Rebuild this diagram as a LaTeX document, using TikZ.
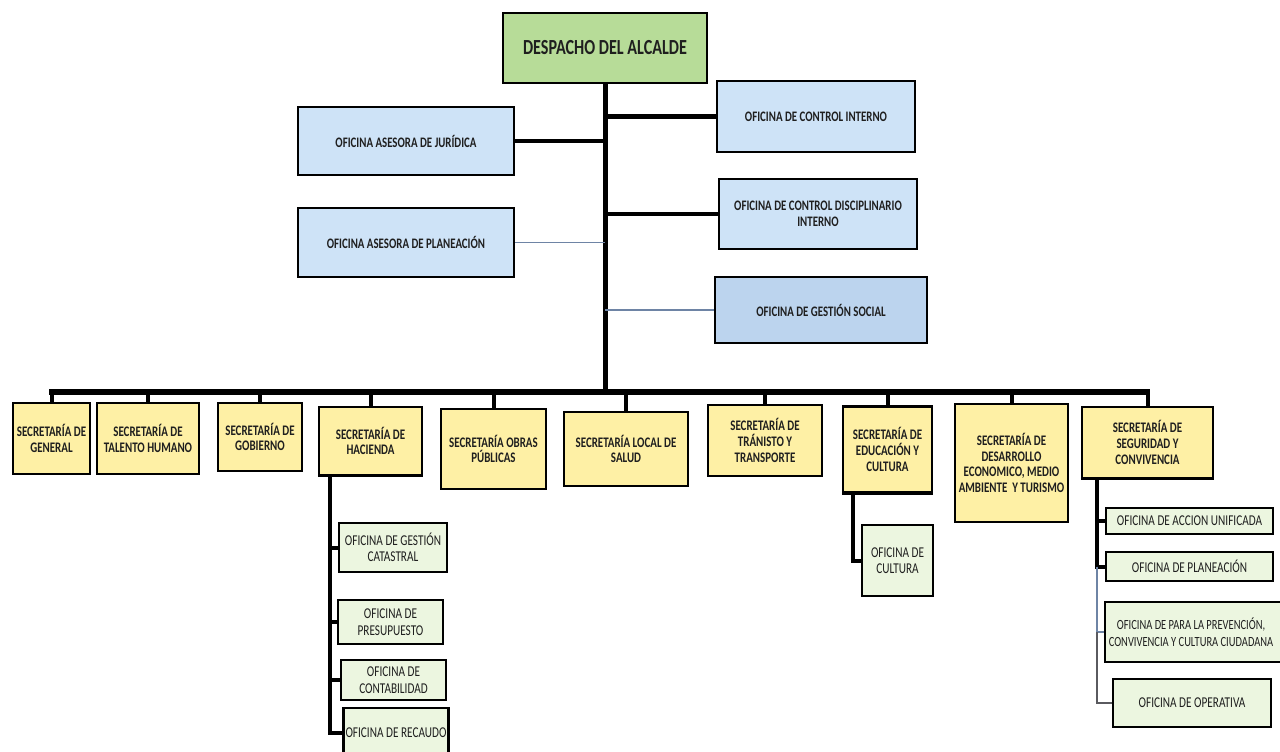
\documentclass[tikz,border=0pt]{standalone}
\usepackage{fontspec}
\setmainfont{Carlito}[FakeStretch=0.75]
\definecolor{cgreen}{RGB}{183,220,152}
\definecolor{cblue}{RGB}{206,227,247}
\definecolor{cbluedark}{RGB}{188,212,238}
\definecolor{cyellow}{RGB}{254,240,165}
\definecolor{clgreen}{RGB}{236,246,224}
\definecolor{cthin}{RGB}{110,132,165}
\definecolor{cgrayline}{RGB}{90,90,95}
\tikzset{
  box/.style={draw=black, line width=2.4pt, align=center, inner sep=2pt, text=black!88},
  despbox/.style={box, fill=cgreen, font=\fontsize{21.5}{25}\selectfont\bfseries},
  bluebox/.style={box, fill=cblue, font=\fontsize{14.5}{15.5}\selectfont\bfseries},
  secbox/.style={box, fill=cyellow, font=\fontsize{14.6}{15.8}\selectfont\bfseries},
  ofibox/.style={box, fill=clgreen, font=\fontsize{15}{16.5}\selectfont},
  sz/.style args={#1x#2}{minimum width=#1pt, minimum height=#2pt},
  trunkline/.style={line width=5pt, black},
  thickline/.style={line width=4.5pt, black},
  busline/.style={line width=5.5pt, black},
  dropline/.style={line width=4pt, black},
  thinline/.style={line width=1.5pt, cthin},
  grayline/.style={line width=2pt, cgrayline},
}
\begin{document}
\begin{tikzpicture}[x=1pt,y=-1pt]
\useasboundingbox (0,0) rectangle (1280,752);
\begin{scope}
\clip (0,0) rectangle (1280,752);
\fill[white] (0,0) rectangle (1280,752);

% top level
\node[despbox, sz=204x70] (desp) at (605,48) {DESPACHO DEL ALCALDE};
\node[bluebox, sz=216x68] (jur) at (406,141) {OFICINA ASESORA DE JURÍDICA};
\node[bluebox, sz=216x69] (pla) at (406,242.5) {OFICINA ASESORA DE PLANEACIÓN};
\node[bluebox, sz=198x71] (ci) at (816,116.5) {OFICINA DE CONTROL INTERNO};
\node[bluebox, sz=198x70] (cdi) at (818,214) {OFICINA DE CONTROL DISCIPLINARIO\\INTERNO};
\node[bluebox, fill=cbluedark, sz=212x66] (gs) at (821,310) {OFICINA DE GESTIÓN SOCIAL};

% secretarias
\node[secbox, sz=77x71] (s1) at (51.5,438.5) {SECRETARÍA DE\\GENERAL};
\node[secbox, sz=102x71] (s2) at (148,438.5) {SECRETARÍA DE\\TALENTO HUMANO};
\node[secbox, sz=84x68] (s3) at (260,437) {SECRETARÍA DE\\GOBIERNO};
\node[secbox, sz=103x68] (s4) at (370.5,441) {SECRETARÍA DE\\HACIENDA};
\node[secbox, sz=105x80] (s5) at (493.5,449) {SECRETARÍA OBRAS\\PÚBLICAS};
\node[secbox, sz=124x74] (s6) at (626,449) {SECRETARÍA LOCAL DE\\SALUD};
\node[secbox, sz=114x71] (s7) at (765,440.5) {SECRETARÍA DE\\TRÁNISTO Y\\TRANSPORTE};
\node[secbox, sz=89x86] (s8) at (887.5,449.5) {SECRETARÍA DE\\EDUCACIÓN Y\\CULTURA};
\node[secbox, sz=113x118, inner sep=1pt] (s9) at (1011.5,463) {SECRETARÍA DE\\DESARROLLO\\ECONOMICO, MEDIO\\AMBIENTE \ Y TURISMO};
\node[secbox, sz=131x71] (s10) at (1147.5,442.5) {SECRETARÍA DE\\SEGURIDAD Y\\CONVIVENCIA};

% oficinas de hacienda
\node[ofibox, sz=108x49] (cat) at (393,547.5) {OFICINA DE GESTIÓN\\CATASTRAL};
\node[ofibox, sz=105x44] (pre) at (390.5,622) {OFICINA DE\\PRESUPUESTO};
\node[ofibox, sz=105x40] (con) at (393.5,680) {OFICINA DE\\CONTABILIDAD};
\node[ofibox, sz=104x50] (rec) at (396,733) {OFICINA DE RECAUDO};

% educacion
\node[ofibox, sz=71x71] (cul) at (897.5,560.5) {OFICINA DE\\CULTURA};

% seguridad
\node[ofibox, sz=167x26] (acc) at (1189.5,521) {OFICINA DE ACCION UNIFICADA};
\node[ofibox, sz=167x29] (plan2) at (1189.5,566.5) {OFICINA DE PLANEACIÓN};
\node[ofibox, sz=180x60] (prev) at (1195,632) {};
\node[font=\fontsize{14}{16.5}\selectfont, align=center, text=black!88] (prevtxt) at (1191,632) {OFICINA DE PARA LA PREVENCIÓN,\\CONVIVENCIA Y CULTURA CIUDADANA};
\node[ofibox, sz=158x48] (ope) at (1192,703) {OFICINA DE OPERATIVA};

% junction coordinates
\coordinate (bus) at (605,392);
\coordinate (hx) at (330,475);
\coordinate (ex) at (853,492);
\coordinate (sx) at (1097,478);

% trunk and staff connectors
\draw[trunkline] (desp.south) -- (bus);
\draw[thickline] (jur.east) -- (jur.east -| bus);
\draw[thickline] (ci.west) -- (ci.west -| bus);
\draw[thickline] (cdi.west) -- (cdi.west -| bus);
\draw[thinline] (pla.east) -- (pla.east -| bus);
\draw[thinline] (gs.west) -- (gs.west -| bus);

% bus and drops
\draw[busline, line cap=rect] (s1.north |- bus) -- (s10.north |- bus);
\foreach \s in {s1,s2,s3,s4,s5,s6,s7,s8,s9,s10}{
  \draw[dropline] (\s.north) -- (\s.north |- bus);
}

% hacienda branch
\draw[dropline] (hx) |- (cat.west);
\draw[dropline] (hx) |- (pre.west);
\draw[dropline] (hx) |- (con.west);
\draw[dropline] (hx) |- (rec.west);

% educacion branch
\draw[dropline] (ex) |- (cul.west);

% seguridad branch
\draw[dropline] (sx) |- (acc.west);
\draw[dropline] (sx) |- (plan2.west);
\draw[thinline] (plan2.west -| sx) |- (prev.west);
\draw[grayline] (prev.west -| sx) |- (ope.west);

% redraw box bottoms over line ends
\foreach \n in {s4,s8,s10}{
  \draw[line width=2.4pt] (\n.south west) -- (\n.south east);
}
\end{scope}
\end{tikzpicture}
\end{document}
